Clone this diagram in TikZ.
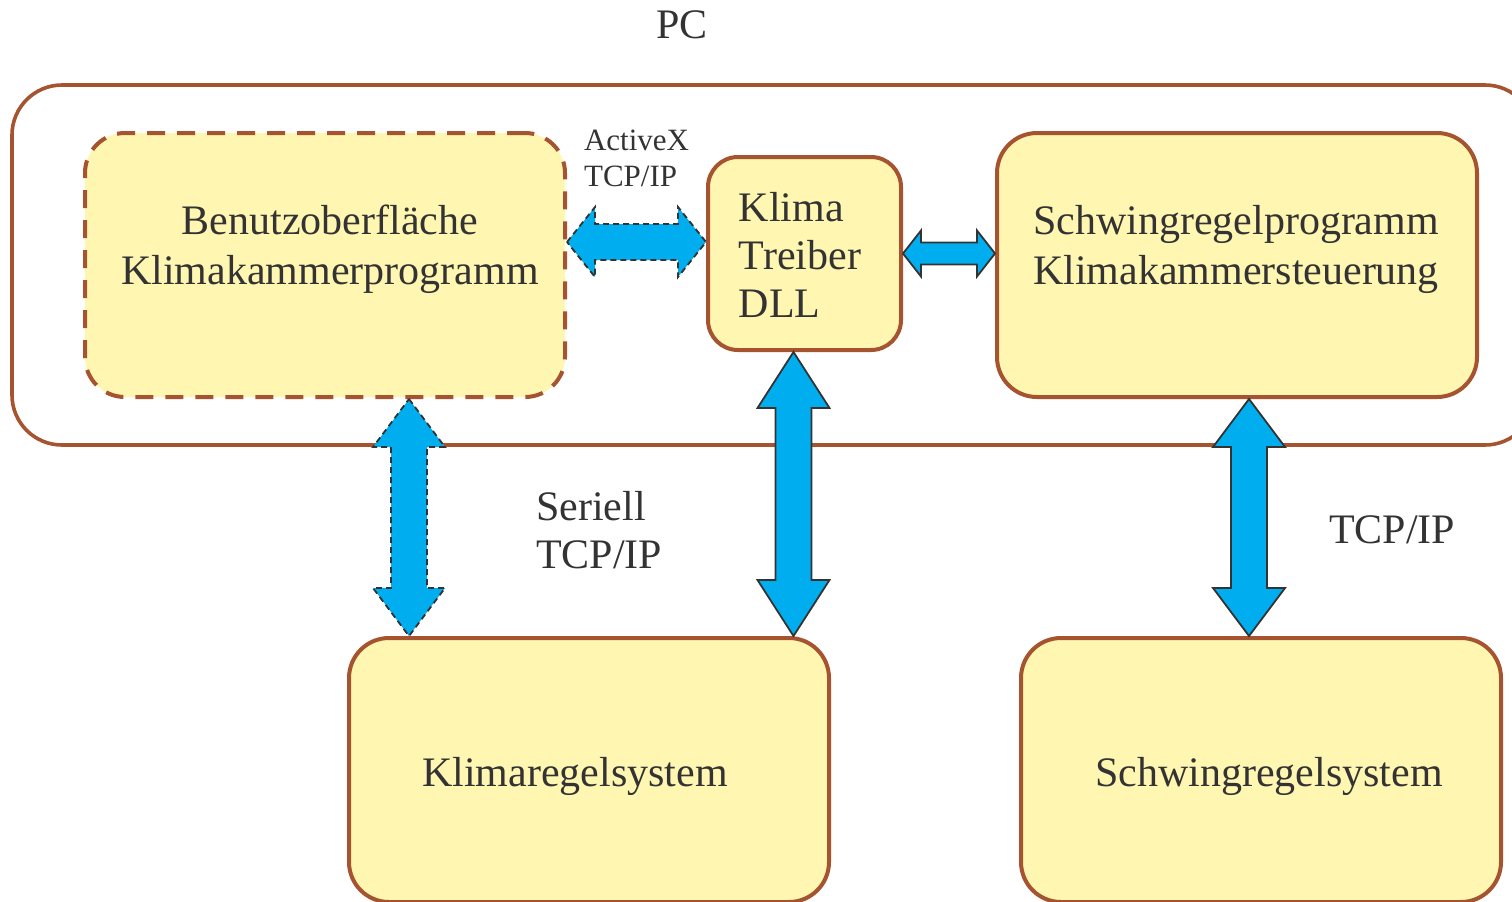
\documentclass[tikz,border=0pt]{standalone}
\usepackage{fontspec}
\setmainfont{Liberation Serif}
\usetikzlibrary{calc}
\usetikzlibrary{positioning}

\definecolor{boxfill}{RGB}{255,246,178}
\definecolor{boxline}{RGB}{166,83,48}
\definecolor{arrowfill}{RGB}{0,174,239}
\definecolor{arrowline}{RGB}{51,51,51}
\definecolor{textgray}{RGB}{51,51,51}

% block arrow, upper end #2, lower end #3
\newcommand{\vdoublearrow}[6][]{%
  \draw[bigarrow, #1] let \p1 = (#2), \p2 = (#3) in
	(\x1,\y1) -- (\x1+#4,\y1-#5) -- (\x1+#6,\y1-#5) -- (\x1+#6,\y2+#5) -- (\x1+#4,\y2+#5)
	-- (\x1,\y2) -- (\x1-#4,\y2+#5) -- (\x1-#6,\y2+#5) -- (\x1-#6,\y1-#5) -- (\x1-#4,\y1-#5) -- cycle;
}
% block arrow, left end #2, right end #3
\newcommand{\hdoublearrow}[6][]{%
  \draw[bigarrow, #1] let \p1 = (#2), \p2 = (#3) in
	(\x1,\y1) -- (\x1+#5,\y1+#4) -- (\x1+#5,\y1+#6) -- (\x2-#5,\y1+#6) -- (\x2-#5,\y1+#4)
	-- (\x2,\y1) -- (\x2-#5,\y1-#4) -- (\x2-#5,\y1-#6) -- (\x1+#5,\y1-#6) -- (\x1+#5,\y1-#4) -- cycle;
}

\begin{document}
\begin{tikzpicture}[
	x = 0.5pt, y = -0.5pt,
	box/.style = {
	  draw = boxline, fill = boxfill, line width = 2pt,
	  rounded corners = 20pt,
	  minimum width = 240pt, minimum height = 132pt,
	  inner sep = 0pt,
	},
	txt/.style = {
	  text = textgray, align = center,
	  font = \fontsize{21}{25}\selectfont,
	},
	smalltxt/.style = {
	  text = textgray, align = left,
	  font = \fontsize{15.5}{18}\selectfont,
	},
	bigarrow/.style = {
	  draw = arrowline, fill = arrowfill, line width = 0.9pt,
	  line join = miter,
	},
	dashedarrow/.style = {
	  dash pattern = on 3pt off 2pt,
	},
  ]

  \useasboundingbox (0,0) rectangle (1512,901);

  \node[draw = boxline, line width = 1.8pt, rounded corners = 25pt,
	minimum width = 761.5pt, minimum height = 180pt] (pc) at (773.5,265) {};
  \node[txt] (pclabel) at (682,25) {PC};

  \node[box, dash pattern = on 9pt off 6pt] (benutz) at (325,265) {};
  \node[box, rounded corners = 15pt, minimum width = 96.5pt,
	minimum height = 96.5pt] (dll) at (804.5,253.5) {};
  \node[box] (schwingprog) at (1237,265) {};
  \node[box] (klimaregel) at (589,770) {};
  \node[box] (schwingsys) at (1261,770) {};

  \node[txt] (benutztext) at (330,249) {Benutzoberfläche\\Klimakammerprogramm};
  \node[txt, align = left, font = \fontsize{21}{24}\selectfont]
	(dlltext) at (800,255) {Klima\\Treiber\\DLL};
  \node[txt] (schwingprogtext) at (1236,249)
	{Schwingregelprogramm\\Klimakammersteuerung};
  \node[txt] (klimaregeltext) at (575,776) {Klimaregelsystem};
  \node[txt] (schwingsystext) at (1269,776) {Schwingregelsystem};

  \node[smalltxt, anchor = west] (activex) at (577,158) {ActiveX\\TCP/IP};
  \node[txt, align = left, font = \fontsize{21}{24}\selectfont, anchor = west]
	(seriell) at (529,530) {Seriell\\TCP/IP};
  \node[txt, anchor = west] (tcpip) at (1322,530) {TCP/IP};

  \hdoublearrow[dashedarrow]{$(benutz.east)+(0,-23)$}{dll.west}{17.5pt}{14pt}{9pt}
  \hdoublearrow{dll.east}{schwingprog.west}{11.5pt}{9pt}{5.5pt}

  \vdoublearrow[dashedarrow]{$(benutz.south)+(84,0)$}{klimaregel.north}{18pt}{24pt}{9pt}
  \vdoublearrow{$(dll.south)+(-11,0)$}{klimaregel.north}{18pt}{28pt}{9pt}
  \vdoublearrow{$(schwingprog.south)+(12,0)$}{schwingsys.north}{18pt}{24pt}{9pt}
\end{tikzpicture}
\end{document}
